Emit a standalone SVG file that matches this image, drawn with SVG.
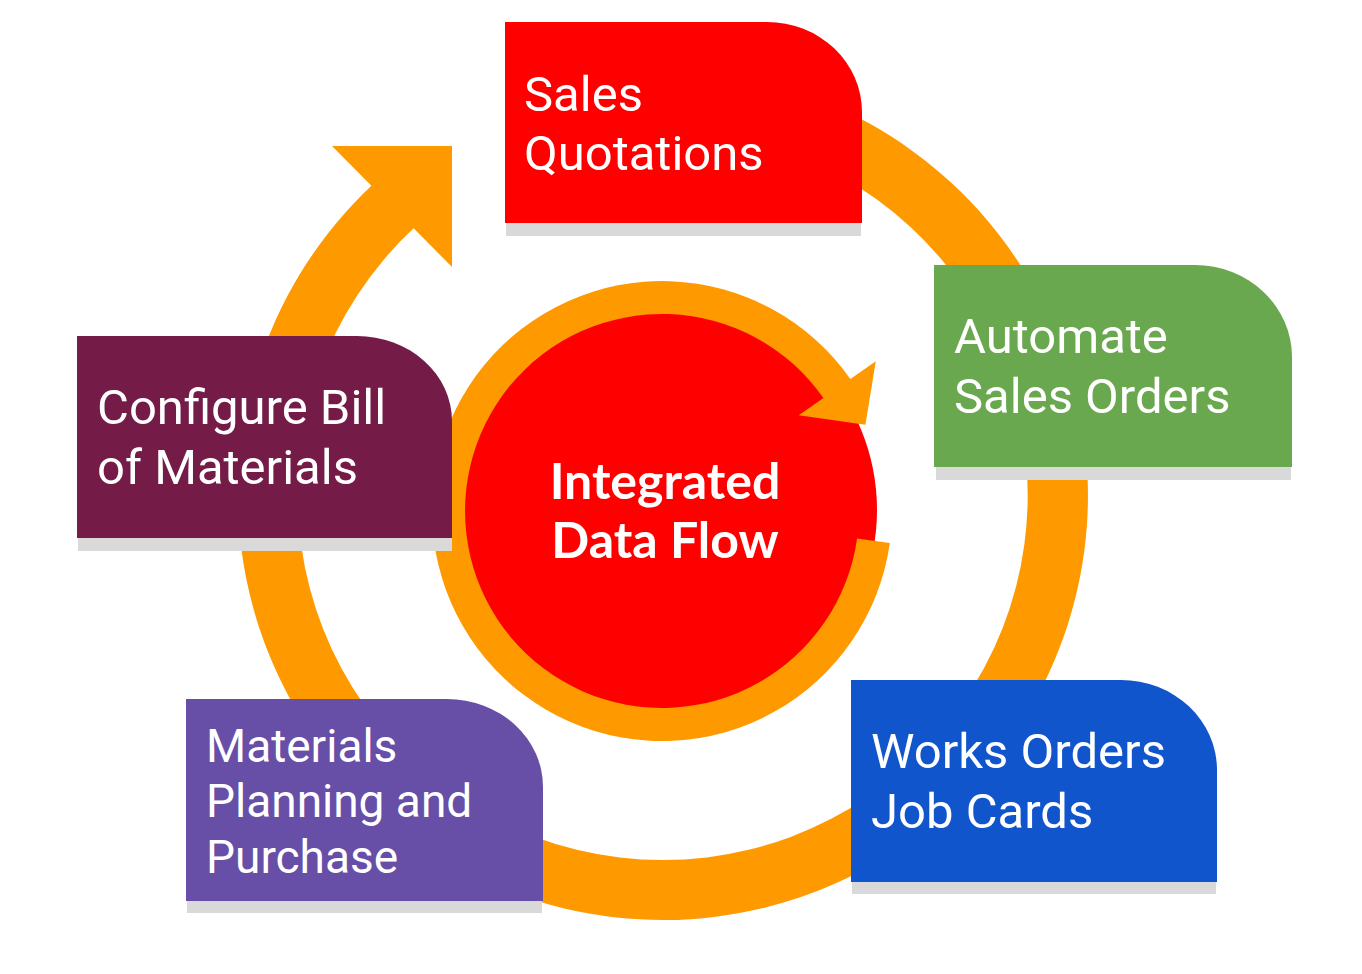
<svg xmlns="http://www.w3.org/2000/svg" width="1362" height="974" viewBox="0 0 1362 974">
<style>
.arrow{fill:#ff9900}
.shadow{fill:#d9d9d9}
.lbl{font-family:Roboto,"Noto Sans",sans-serif;font-size:49px;fill:#ffffff}
.lbl46{font-family:Roboto,"Noto Sans",sans-serif;font-size:46px;fill:#ffffff}
.center{font-family:Lato,"Open Sans",sans-serif;font-weight:bold;font-size:50px;fill:#ffffff;text-anchor:middle}
</style>
<rect width="1362" height="974" fill="#ffffff"/>
<g id="connectors">
<path class="arrow" d="M574.6,79.3 A425,425 0 1 1 371.4,185.8 L332,146 L452,146 L452,267 L413.6,228.3 A365,365 0 1 0 587.1,138 Z"/>
</g>
<g id="hub">
<circle cx="666" cy="510" r="211" fill="#ff0000"/>
<path class="arrow" d="M889.8,543 A230,230 0 1 1 850.4,379.1 L875.8,361.3 L865.4,424.7 L798.8,415.2 L823.4,398 A197,197 0 1 0 857.1,538.4 Z"/>
<text class="center" x="665" y="499">Integrated</text>
<text class="center" x="665" y="558">Data Flow</text>
</g>
<g id="sales-quotations">
<rect class="shadow" x="506" y="223" width="355" height="13"/>
<path fill="#ff0000" d="M505,22 H767 A95,90 0 0 1 862,112 V223 H505 Z"/>
<text class="lbl" x="524" y="111">Sales</text>
<text class="lbl" x="524" y="170">Quotations</text>
</g>
<g id="automate-sales-orders">
<rect class="shadow" x="936" y="467" width="355" height="13"/>
<path fill="#6aa84f" d="M934,265 H1195 A97,92 0 0 1 1292,357 V467 H934 Z"/>
<text class="lbl" x="954" y="353">Automate</text>
<text class="lbl" x="954" y="413">Sales Orders</text>
</g>
<g id="works-orders">
<rect class="shadow" x="852" y="882" width="364" height="12"/>
<path fill="#1155cc" d="M851,680 H1121 A96,90 0 0 1 1217,770 V882 H851 Z"/>
<text class="lbl" x="871" y="768">Works Orders</text>
<text class="lbl" x="871" y="828">Job Cards</text>
</g>
<g id="materials-planning">
<rect class="shadow" x="187" y="901" width="355" height="12"/>
<path fill="#674ea7" d="M186,699 H447 A96,88 0 0 1 543,787 V901 H186 Z"/>
<text class="lbl46" x="206" y="762">Materials</text>
<text class="lbl46" x="206" y="817">Planning and</text>
<text class="lbl46" x="206" y="873">Purchase</text>
</g>
<g id="configure-bom">
<rect class="shadow" x="78" y="538" width="374" height="13"/>
<path fill="#741b47" d="M77,336 H357 A95,85 0 0 1 452,421 V538 H77 Z"/>
<text class="lbl" x="97" y="424">Configure Bill</text>
<text class="lbl" x="97" y="484">of Materials</text>
</g>
</svg>
